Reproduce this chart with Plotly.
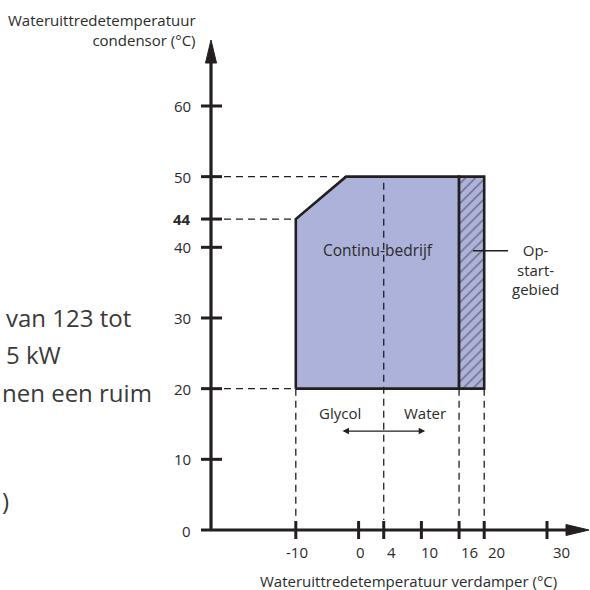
import plotly.graph_objects as go

# ---------------- data ----------------
x_tick_values = [-10, 0, 4, 10, 16, 20, 30]
x_tick_labels = ["-10", "0", "4", "10", "16", "20", "30"]
y_tick_values = [0, 10, 20, 30, 40, 44, 50, 60]
y_tick_labels = ["0", "10", "20", "30", "40", "<b>44</b>", "50", "60"]

continuous_x = [-10, -10, -2, 16, 16]
continuous_y = [20, 44, 50, 50, 20]
startup_x = [16, 16, 20, 20]
startup_y = [20, 50, 50, 20]

guide_h_values = [50, 44, 20]
guide_h_ends = [-2, -10, -10]
guide_v_values = [-10, 4, 16, 20]
guide_v_tops = [20, 50, 20, 20]

glycol_water_arrow = [-2.8, 10.6]
glycol_water_level = 14.0

side_text = ["van 123 tot", "5 kW", "nen een ruim", ")"]

# ---------------- style / layout ----------------
W = H = 590
X0_PX, PX_PER_X = 358.6, 6.28      # pixel of x=0, pixels per unit
Y0_PX, PX_PER_Y = 530.0, 7.067     # pixel of y=0, pixels per unit
x_range = [-X0_PX / PX_PER_X, (W - X0_PX) / PX_PER_X]
y_range = [(Y0_PX - H) / PX_PER_Y, Y0_PX / PX_PER_Y]
AXIS_X = (211 - X0_PX) / PX_PER_X

INK = "#231f20"
TXT = "#2b2b2b"
FILL = "#adb2da"
FONT = "Open Sans"
FS = 15


def dx(px):
    return px / PX_PER_X


def dy(px):
    return px / PX_PER_Y


fig = go.Figure()

# continuous operation region
fig.add_trace(go.Scatter(
    x=continuous_x + [continuous_x[0]], y=continuous_y + [continuous_y[0]],
    mode="lines", fill="toself", fillcolor=FILL,
    line=dict(color=INK, width=2.6), hoverinfo="skip", showlegend=False))

# start-up region (hatched)
fig.add_trace(go.Scatter(
    x=startup_x + [startup_x[0]], y=startup_y + [startup_y[0]],
    mode="lines", fill="toself", fillcolor=FILL,
    fillpattern=dict(shape="/", fgcolor=INK, bgcolor=FILL, size=7, solidity=0.2),
    line=dict(color=INK, width=2.6), hoverinfo="skip", showlegend=False))

shapes = []
dash = dict(color=INK, width=1.3, dash="7px,5px")

# dashed guides
for yv, xe in zip(guide_h_values, guide_h_ends):
    shapes.append(dict(type="line", x0=AXIS_X + dx(13), x1=xe, y0=yv, y1=yv,
                       line=dash, layer="above"))
for xv, yt in zip(guide_v_values, guide_v_tops):
    top = yt - dy(6) if yt == max(continuous_y) else yt
    shapes.append(dict(type="line", x0=xv, x1=xv, y0=top, y1=dy(10),
                       line=dash, layer="above"))

# axes
x_arrow_tip = x_range[1] - dx(1)
y_arrow_tip = (Y0_PX - 40) / PX_PER_Y
shapes.append(dict(type="line", x0=AXIS_X - dx(10), x1=x_arrow_tip - dx(20), y0=0, y1=0,
                   line=dict(color=INK, width=3.2), layer="above"))
shapes.append(dict(type="line", x0=AXIS_X, x1=AXIS_X, y0=0, y1=y_arrow_tip - dy(20),
                   line=dict(color=INK, width=3.2), layer="above"))
shapes.append(dict(type="path",
                   path=f"M {x_arrow_tip - dx(23)},{dy(5.5)} L {x_arrow_tip},0 L {x_arrow_tip - dx(23)},{-dy(5.5)} Z",
                   fillcolor=INK, line=dict(color=INK, width=1), layer="above"))
shapes.append(dict(type="path",
                   path=f"M {AXIS_X - dx(5.5)},{y_arrow_tip - dy(23)} L {AXIS_X},{y_arrow_tip} L {AXIS_X + dx(5.5)},{y_arrow_tip - dy(23)} Z",
                   fillcolor=INK, line=dict(color=INK, width=1), layer="above"))

# ticks
for xv in x_tick_values:
    shapes.append(dict(type="line", x0=xv, x1=xv, y0=-dy(9), y1=dy(9),
                       line=dict(color=INK, width=3), layer="above"))
for yv in y_tick_values:
    if yv == 0:
        continue
    shapes.append(dict(type="line", x0=AXIS_X - dx(10), x1=AXIS_X + dx(11), y0=yv, y1=yv,
                       line=dict(color=INK, width=3), layer="above"))

# leader line for start-up area
shapes.append(dict(type="line", x0=18.2, x1=23.8, y0=39.5, y1=39.5,
                   line=dict(color=INK, width=1.5), layer="above"))

annotations = []
tick_font = dict(family=FONT, size=FS, color=TXT)
x_label_shift = [1, 2, 8, 8, 10, 12, 14]
for xv, lab, sh in zip(x_tick_values, x_tick_labels, x_label_shift):
    annotations.append(dict(x=xv, y=0, xref="x", yref="y", text=lab, showarrow=False,
                            xanchor="center", yanchor="middle", xshift=sh, yshift=-22,
                            font=tick_font))
for yv, lab in zip(y_tick_values, y_tick_labels):
    annotations.append(dict(x=AXIS_X, y=yv, xref="x", yref="y", text=lab, showarrow=False,
                            xanchor="right", yanchor="middle", xshift=-18,
                            yshift=-1 if yv == 0 else 0, font=tick_font))

# axis titles
annotations.append(dict(x=198 / W, y=1 - 30 / H, xref="paper", yref="paper",
                        text="Wateruittredetemperatuur<br>condensor (°C)", align="right",
                        showarrow=False, xanchor="right", yanchor="middle", font=tick_font))
annotations.append(dict(x=559 / W, y=1 - 581 / H, xref="paper", yref="paper",
                        text="Wateruittredetemperatuur verdamper (°C)",
                        showarrow=False, xanchor="right", yanchor="middle", font=tick_font))

# region labels
annotations.append(dict(x=3.1, y=39.6, text="Continu-bedrijf", showarrow=False,
                        xanchor="center", yanchor="middle", font=dict(family=FONT, size=15.5, color=TXT)))
annotations.append(dict(x=28.1, y=36.8, text="Op-<br>start-<br>gebied", showarrow=False,
                        xanchor="center", yanchor="middle", align="center",
                        font=dict(family=FONT, size=FS, color=TXT)))
annotations.append(dict(x=-2.95, y=16.6, text="Glycol", showarrow=False,
                        xanchor="center", yanchor="middle", font=dict(family=FONT, size=FS, color=TXT)))
annotations.append(dict(x=10.5, y=16.6, text="Water", showarrow=False,
                        xanchor="center", yanchor="middle", font=dict(family=FONT, size=FS, color=TXT)))
annotations.append(dict(x=glycol_water_arrow[1], y=glycol_water_level,
                        ax=glycol_water_arrow[0], ay=glycol_water_level,
                        xref="x", yref="y", axref="x", ayref="y", text="",
                        showarrow=True, arrowhead=2, arrowside="end+start",
                        arrowsize=1, arrowwidth=1.3, arrowcolor=INK))

# side text fragments (from surrounding document)
side_font = dict(family=FONT, size=24, color="#3a3a3a")
annotations.append(dict(x=4 / W, y=1 - 317 / H, xref="paper", yref="paper", text=side_text[0],
                        showarrow=False, xanchor="left", yanchor="middle", font=side_font))
annotations.append(dict(x=4 / W, y=1 - 354 / H, xref="paper", yref="paper", text=side_text[1],
                        showarrow=False, xanchor="left", yanchor="middle", font=side_font))
annotations.append(dict(x=0, y=1 - 392 / H, xref="paper", yref="paper", text=side_text[2],
                        showarrow=False, xanchor="left", yanchor="middle", font=side_font))
annotations.append(dict(x=0, y=1 - 500 / H, xref="paper", yref="paper", text=side_text[3],
                        showarrow=False, xanchor="left", yanchor="middle", font=side_font))

fig.update_layout(
    width=W, height=H, margin=dict(l=0, r=0, t=0, b=0),
    paper_bgcolor="white", plot_bgcolor="white",
    xaxis=dict(range=x_range, visible=False, fixedrange=True),
    yaxis=dict(range=y_range, visible=False, fixedrange=True),
    shapes=shapes, annotations=annotations, showlegend=False,
)

fig.write_html("out.html", post_script="document.body.style.margin='0';",
               config={"displayModeBar": False})
